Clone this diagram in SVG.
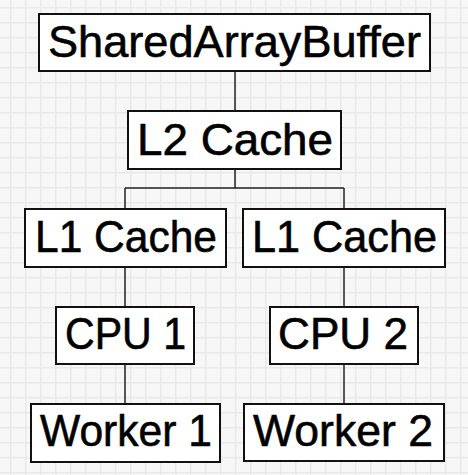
<svg xmlns="http://www.w3.org/2000/svg" width="468" height="475" viewBox="0 0 468 475">
<style>
.box{fill:#ffffff;stroke:#111111;stroke-width:2}
.lbl{font-family:"Liberation Sans","DejaVu Sans",Arial,sans-serif;font-size:44px;fill:#000000;stroke:#000000;stroke-width:0.6;stroke-linejoin:round}
.conn{fill:none;stroke:#222222;stroke-width:1.5}
</style>
<defs>
<pattern id="grid" x="10" y="7" width="15" height="15" patternUnits="userSpaceOnUse">
<rect width="15" height="15" fill="#f7f7f7"/>
<path d="M0 0.75H15M0.75 0V15" stroke="#e9e9e9" stroke-width="1.5" fill="none"/>
</pattern>
</defs>
<rect width="468" height="475" fill="url(#grid)"/>
<g id="connectors">
<path class="conn" d="M235 71V111"/>
<path class="conn" d="M235 169V188M125 188H344M125 188V209M344 188V209"/>
<path class="conn" d="M125 267V307M125 364V404"/>
<path class="conn" d="M344 267V307M344 364V404"/>
</g>
<g id="sab">
<rect class="box" x="39" y="14" width="391" height="57"/>
<text class="lbl" x="48" y="57" textLength="373" lengthAdjust="spacingAndGlyphs">SharedArrayBuffer</text>
</g>
<g id="l2">
<rect class="box" x="128" y="111" width="213" height="58"/>
<text class="lbl" x="137" y="155" textLength="196" lengthAdjust="spacingAndGlyphs">L2 Cache</text>
</g>
<g id="l1a">
<rect class="box" x="25" y="209" width="201" height="58"/>
<text class="lbl" x="35" y="252" textLength="182" lengthAdjust="spacingAndGlyphs">L1 Cache</text>
</g>
<g id="l1b">
<rect class="box" x="243" y="209" width="202" height="58"/>
<text class="lbl" x="252" y="252" textLength="185" lengthAdjust="spacingAndGlyphs">L1 Cache</text>
</g>
<g id="cpu1">
<rect class="box" x="56" y="307" width="138" height="57"/>
<text class="lbl" x="65" y="349" textLength="121" lengthAdjust="spacingAndGlyphs">CPU 1</text>
</g>
<g id="cpu2">
<rect class="box" x="270" y="307" width="148" height="57"/>
<text class="lbl" x="278" y="349" textLength="130" lengthAdjust="spacingAndGlyphs">CPU 2</text>
</g>
<g id="worker1">
<rect class="box" x="31" y="404" width="189" height="58"/>
<text class="lbl" x="40" y="446" textLength="172" lengthAdjust="spacingAndGlyphs">Worker 1</text>
</g>
<g id="worker2">
<rect class="box" x="244" y="404" width="200" height="57"/>
<text class="lbl" x="253" y="446" textLength="180" lengthAdjust="spacingAndGlyphs">Worker 2</text>
</g>
</svg>
